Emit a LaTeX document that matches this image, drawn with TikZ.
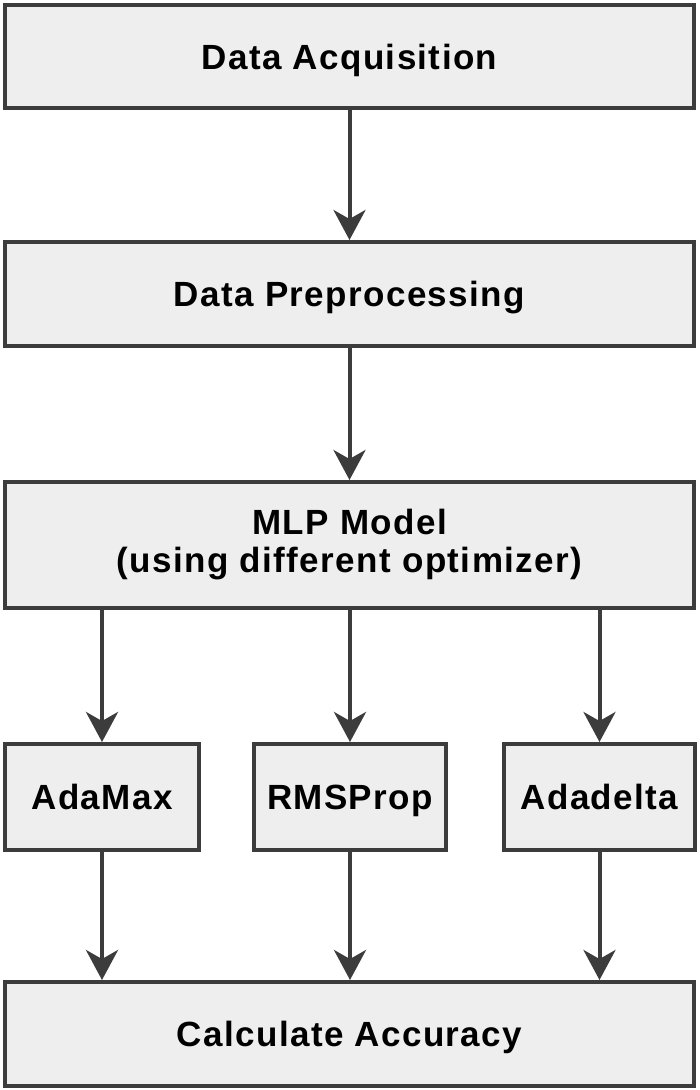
\documentclass[tikz,border=0pt]{standalone}
\usepackage{fontspec}
\setmainfont{Liberation Sans}[LetterSpace=4]
\usetikzlibrary{arrows.meta}
\definecolor{boxline}{HTML}{3C3C3C}
\definecolor{boxfill}{HTML}{EEEEEE}
\begin{document}
\begin{tikzpicture}[x=1pt,y=-1pt,
  font=\fontsize{35}{38}\selectfont\bfseries,
  box/.style={draw=boxline, fill=boxfill, line width=4pt, rectangle, inner sep=0pt, align=center},
  oneline/.style={box, text height=25pt, text depth=0pt},
  arr/.style={draw=boxline, line width=4pt, -{Stealth[length=30pt,width=32pt,inset=9pt]}}]
  \useasboundingbox[fill=white] (0,0) rectangle (699,1090);

  \node[oneline, minimum width=689pt, minimum height=103pt] (acq) at (349.5,56.5) {Data Acquisition};
  \node[oneline, minimum width=689pt, minimum height=104pt] (prep) at (349.5,294) {Data Preprocessing};
  \node[box, minimum width=689pt, minimum height=126pt] (mlp) at (349.5,545) {MLP Model\\(using different optimizer)};
  \node[oneline, minimum width=194pt, minimum height=106pt] (adamax) at (102,797) {AdaMax};
  \node[oneline, minimum width=192pt, minimum height=106pt] (rms) at (350,797) {RMSProp};
  \node[oneline, minimum width=191pt, minimum height=106pt] (adadelta) at (599.5,797) {Adadelta};
  \node[oneline, minimum width=689pt, minimum height=104pt] (acc) at (349.5,1034) {Calculate Accuracy};

  \draw[arr] (acq) -- (prep);
  \draw[arr] (prep) -- (mlp);
  \foreach \n in {adamax,rms,adadelta}
    \draw[arr] (mlp.south -| \n.north) -- (\n.north);
  \foreach \n in {adamax,rms,adadelta}
    \draw[arr] (\n.south) -- (\n.south |- acc.north);

\end{tikzpicture}
\end{document}
